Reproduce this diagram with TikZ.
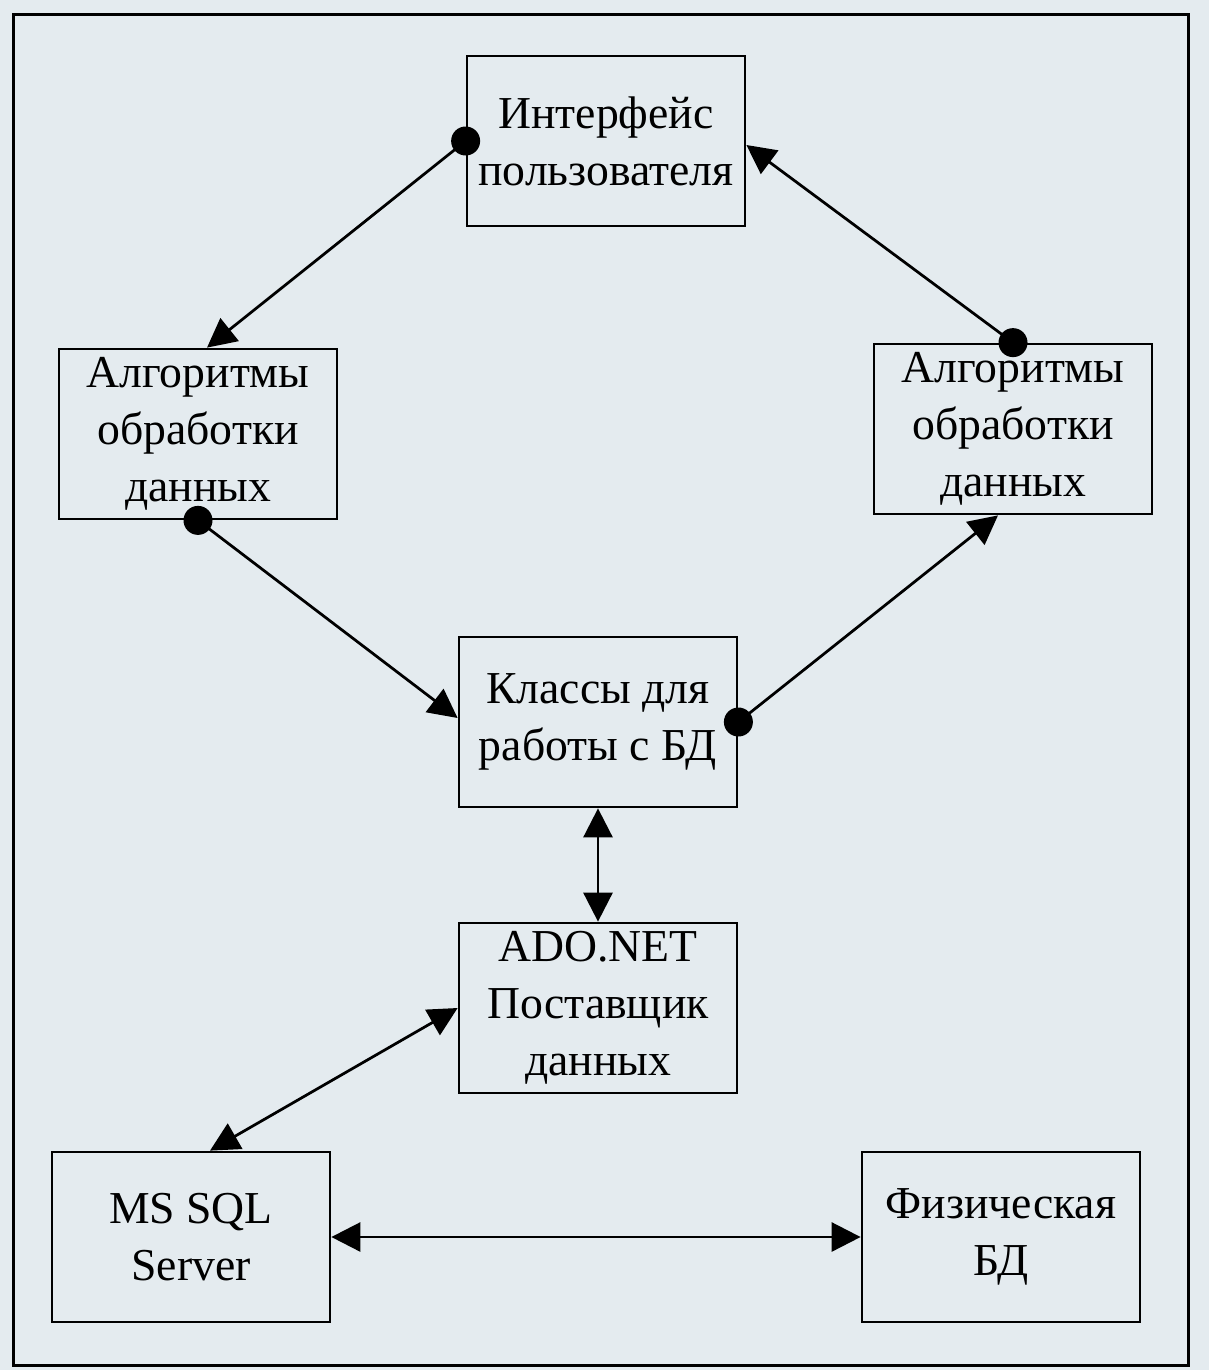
\documentclass[tikz,border=0pt]{standalone}
\usepackage{fontspec}
\setmainfont{Liberation Serif}
\usetikzlibrary{arrows.meta}

\definecolor{paper}{RGB}{228,235,239}

\tikzset{
    blok/.style={draw, line width=0.55mm, minimum width=55.6mm, minimum height=34mm,
                 align=center, font=\fontsize{26}{32.5}\selectfont, inner sep=0pt},
    strelka/.style={line width=0.55mm, -{Triangle[length=5.8mm,width=5.8mm]}},
    dvestrelki/.style={line width=0.55mm, {Triangle[length=5.8mm,width=5.8mm]}-{Triangle[length=5.8mm,width=5.8mm]}}
}

\begin{document}
\begin{tikzpicture}[x=0.2mm, y=-0.2mm]

    % Background and frame
    \fill[paper] (0,0) rectangle (1209,1370);
    \useasboundingbox (0,0) rectangle (1209,1370);
    \draw[line width=0.6mm] (13,14) rectangle (1188,1365);

    % Blocks
    \node[blok] (ui) at (606,141) {Интерфейс\\пользователя};
    \node[blok] (alg1) at (198,434) {Алгоритмы\\обработки\\данных};
    \node[blok] (alg2) at (1013,429) {Алгоритмы\\обработки\\данных};
    \node[blok] (db) at (598,722) {Классы для\\работы с БД};
    \node[blok] (ado) at (598,1008) {ADO.NET\\Поставщик\\данных};
    \node[blok] (sql) at (191,1237) {MS SQL\\Server};
    \node[blok] (phys) at (1001,1237) {Физическая\\БД};

    % Connectors with dots
    \draw[strelka] (ui.west) -- ([xshift=1.8mm]alg1.north);
    \fill (ui.west) circle (2.9mm);
    \draw[strelka] (alg2.north) -- ([yshift=-0.8mm]ui.east);
    \fill (alg2.north) circle (2.9mm);
    \draw[strelka] (alg1.south) -- ([yshift=0.8mm]db.west);
    \fill (alg1.south) circle (2.9mm);
    \draw[strelka] (db.east) -- ([xshift=-3mm]alg2.south);
    \fill (db.east) circle (2.9mm);

    % Double arrows
    \draw[dvestrelki] (db.south) -- (ado.north);
    \draw[dvestrelki] (ado.west) -- ([xshift=3.8mm]sql.north);
    \draw[dvestrelki] (sql.east) -- (phys.west);
\end{tikzpicture}
\end{document}
